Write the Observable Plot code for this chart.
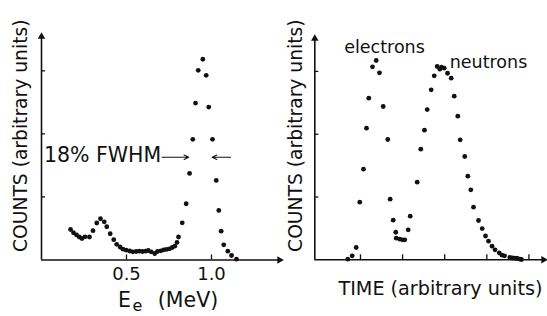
<!DOCTYPE html>
<html>
<head>
<meta charset="utf-8">
<script src="https://cdn.jsdelivr.net/npm/d3@7"></script>
<script src="https://cdn.jsdelivr.net/npm/@observablehq/plot@0.6"></script>
<style>
  html, body { margin: 0; padding: 0; background: #fff; }
  #wrap { position: relative; width: 547px; height: 316px; overflow: hidden; background: #fff; }
  #left, #right { position: absolute; top: 0; }
  #left { left: 0; }
  #right { left: 290px; }
</style>
</head>
<body>
<div id="wrap"><div id="left"></div><div id="right"></div></div>
<script>
// ---- Left panel: electron energy spectrum ----
const leftEnergy = [0.171,0.188,0.206,0.222,0.238,0.256,0.282,0.303,0.325,0.347,0.369,0.384,0.404,0.425,0.442,0.462,0.479,0.498,0.519,0.537,0.557,0.576,0.594,0.612,0.628,0.645,0.666,0.682,0.702,0.719,0.735,0.753,0.769,0.784,0.797,0.806,0.828,0.851,0.871,0.890,0.906,0.922,0.949,0.969,0.984,1.006,1.028,1.043,1.057,1.072,1.096,1.118,1.147];
const leftCounts = [0.484,0.432,0.397,0.365,0.341,0.368,0.365,0.465,0.587,0.654,0.606,0.527,0.416,0.322,0.249,0.206,0.171,0.156,0.143,0.130,0.135,0.140,0.135,0.140,0.151,0.130,0.103,0.135,0.146,0.162,0.167,0.178,0.198,0.219,0.278,0.365,0.590,0.892,1.373,1.913,2.489,3.008,3.183,2.929,2.425,1.913,1.262,0.786,0.457,0.241,0.140,0.071,0.013];
const leftXTicks = [0.5, 1.0];
const leftXTickLabels = ["0.5", "1.0"];
const leftXDomain = [0, 1.406];
const leftYDomain = [0, 3.56];

// ---- Right panel: time-of-flight ----
const electronTime = [0.698,0.803,0.898,0.983,1.071,1.143,1.197,1.285,1.373,1.451,1.539,1.648,1.705,1.777,1.838,1.848,1.933,1.998,2.052,2.133,2.181];
const electronCounts = [0.010,0.064,0.196,0.917,1.443,2.096,2.573,3.073,3.174,2.978,2.441,1.916,0.965,0.631,0.439,0.344,0.328,0.318,0.318,0.478,0.694];
const neutronTime = [2.347,2.432,2.520,2.584,2.679,2.751,2.822,2.884,2.924,2.988,3.067,3.154,3.226,3.311,3.368,3.477,3.549,3.620,3.684,3.803,3.891,3.969,4.040,4.124,4.195,4.295,4.361,4.420,4.546,4.610,4.675,4.729,4.789,4.824];
const neutronCounts = [1.236,1.761,2.064,2.393,2.707,2.930,3.078,3.035,3.067,3.051,2.971,2.892,2.605,2.287,1.911,1.645,1.331,1.115,0.838,0.626,0.498,0.379,0.296,0.217,0.159,0.111,0.073,0.064,0.037,0.029,0.025,0.021,0.010,0.005];
const rightXTicks = [1, 2, 3, 4, 5];
const rightXDomain = [-0.085, 5.37];
const rightYDomain = [0, 3.54];

// shared
const yTicks = [1, 2, 3];
const yLabel = "COUNTS (arbitrary units)";
const leftXLabelParts = ["E", "e", "(MeV)"];
const rightXLabel = "TIME (arbitrary units)";
const fwhmLabel = "18% FWHM";
const fwhmArrows = [
  {x1: 0.71, x2: 0.866, y: 1.63},
  {x1: 1.112, x2: 1.004, y: 1.63}
];
const peakLabels = [
  {t: 1.57, c: 3.38, text: "electrons"},
  {t: 4.04, c: 3.15, text: "neutrons"}
];

const FONT = "DejaVu Sans";
const INK = "#111";

const leftData = leftEnergy.map((e, i) => ({e, c: leftCounts[i]}));
const elecData = electronTime.map((t, i) => ({t, c: electronCounts[i]}));
const neutData = neutronTime.map((t, i) => ({t, c: neutronCounts[i]}));

function axisMarks(xDomain, yDomain, xTicks) {
  return [
    Plot.ruleY([0], {x1: xDomain[0], x2: xDomain[1], stroke: INK, strokeWidth: 1.6}),
    Plot.ruleX([xDomain[0]], {y1: yDomain[0], y2: yDomain[1], stroke: INK, strokeWidth: 1.6}),
    Plot.ruleX(xTicks, {x: d => d, y1: 0, y2: 0, insetTop: -5, stroke: INK, strokeWidth: 1.3}),
    Plot.ruleY(yTicks, {y: d => d, x1: xDomain[0], x2: xDomain[0], insetRight: -4, stroke: INK, strokeWidth: 1.3}),
    Plot.dot([yDomain[1]], {x: () => xDomain[0], y: d => d, symbol: "triangle2", r: 3.6, fill: INK, dy: 1}),
    Plot.dot([xDomain[1]], {x: d => d, y: () => 0, symbol: "triangle2", r: 3.6, fill: INK, rotate: 90, dx: -1})
  ];
}

const txt = (size) => ({fontSize: size, fill: INK, fontFamily: FONT, lineAnchor: "middle", textAnchor: "middle"});

const left = Plot.plot({
  width: 290, height: 316,
  marginLeft: 41, marginRight: 10, marginTop: 35, marginBottom: 56.5,
  x: {domain: leftXDomain, axis: null},
  y: {domain: leftYDomain, axis: null},
  style: {fontFamily: FONT, background: "transparent", overflow: "visible"},
  marks: [
    ...axisMarks(leftXDomain, leftYDomain, leftXTicks),
    Plot.text(leftXTicks, {x: d => d, y: () => 0, text: (d, i) => leftXTickLabels[i], dy: 14.5, ...txt(18)}),
    Plot.dot(leftData, {x: "e", y: "c", r: 2.4, fill: INK}),
    Plot.text([yLabel], {text: d => d, frameAnchor: "left", rotate: -90, dx: -20, dy: -12, ...txt(18.7)}),
    Plot.text([leftXLabelParts[0]], {text: d => d, frameAnchor: "bottom", dx: -36.5, dy: 40, ...txt(20.5)}),
    Plot.text([leftXLabelParts[1]], {text: d => d, frameAnchor: "bottom", dx: -23.5, dy: 45.5, ...txt(16)}),
    Plot.text([leftXLabelParts[2]], {text: d => d, frameAnchor: "bottom", dx: 27, dy: 40, ...txt(20.5)}),
    Plot.text([fwhmLabel], {x: () => fwhmArrows[0].x1, y: () => fwhmArrows[0].y, text: d => d, dx: -1, dy: -1.5, ...txt(20.5), textAnchor: "end"}),
    Plot.arrow(fwhmArrows, {x1: "x1", x2: "x2", y1: "y", y2: "y", stroke: INK, strokeWidth: 1.1, headLength: 7, headAngle: 50})
  ]
});
document.getElementById("left").appendChild(left);

const right = Plot.plot({
  width: 257, height: 316,
  marginLeft: 24.3, marginRight: 3, marginTop: 37, marginBottom: 56.7,
  x: {domain: rightXDomain, axis: null},
  y: {domain: rightYDomain, axis: null},
  style: {fontFamily: FONT, background: "transparent", overflow: "visible"},
  marks: [
    ...axisMarks(rightXDomain, rightYDomain, rightXTicks),
    Plot.dot(elecData, {x: "t", y: "c", r: 2.4, fill: INK}),
    Plot.dot(neutData, {x: "t", y: "c", r: 2.4, fill: INK}),
    Plot.text(peakLabels, {x: "t", y: "c", text: "text", ...txt(17.5)}),
    Plot.text([yLabel], {text: d => d, frameAnchor: "left", rotate: -90, dx: -18.3, dy: -13, ...txt(18.7)}),
    Plot.text([rightXLabel], {text: d => d, frameAnchor: "bottom", dx: 10.8, dy: 29.2, ...txt(19.2)})
  ]
});
document.getElementById("right").appendChild(right);
</script>
</body>
</html>
